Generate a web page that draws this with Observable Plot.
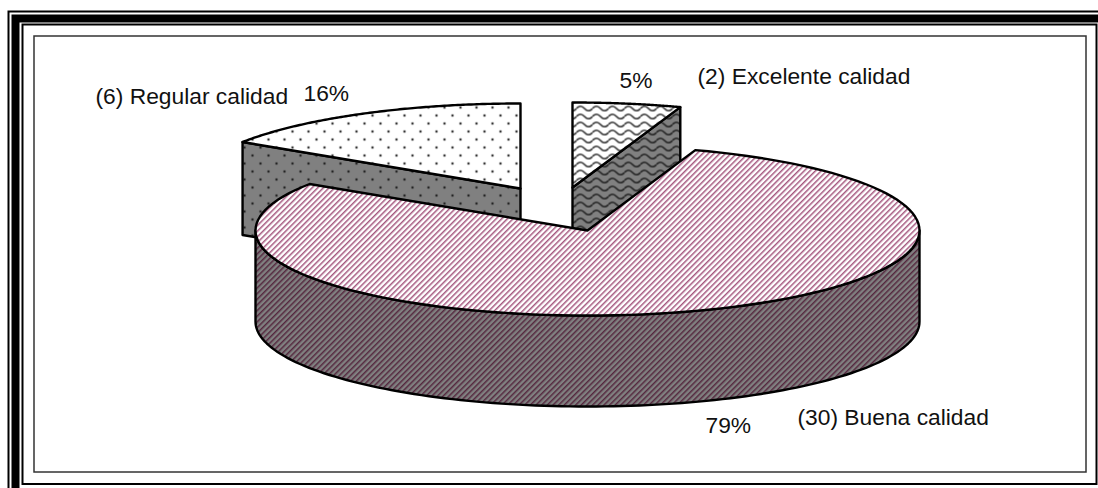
<!DOCTYPE html>
<html>
<head>
<meta charset="utf-8">
<style>html,body{margin:0;padding:0;background:#fff;overflow:hidden}svg{display:block}</style>
<script src="https://cdn.jsdelivr.net/npm/d3@7"></script>
<script src="https://cdn.jsdelivr.net/npm/@observablehq/plot@0.6"></script>
</head>
<body>
<script>
// Survey answers, in clockwise order from twelve o'clock.
const categories = ["Excelente calidad", "Buena calidad", "Regular calidad"];
const counts = [2, 30, 6];
const percents = ["5%", "79%", "16%"];

// Layout of the extruded pie, in page pixels.
const W = 1098, H = 488;
const radiusX = 332, radiusY = 85;
const depths = [91, 91, 93];
const centres = [[572, 187], [587, 230], [520, 188]];
const countAnchors = [[697, 83], [797, 424], [95, 103]];
const percentAnchors = [[619, 87], [705, 432], [303, 100.5]];
const topFills = ["url(#wavesTop)", "url(#stripesTop)", "url(#dotsTop)"];
const sideFills = ["url(#wavesSide)", "url(#stripesSide)", "url(#dotsSide)"];

// Project a pie angle (clockwise from the top) onto the tilted ellipse.
const onRim = ([cx, cy], a, drop = 0) => [cx + radiusX * Math.sin(a), cy - radiusY * Math.cos(a) + drop];
const rim = (c, a0, a1, drop = 0) =>
  d3.range(0, 121).map((i) => onRim(c, a0 + (a1 - a0) * i / 120, drop));

const slices = d3.pie().sort(null).startAngle(0).endAngle(2 * Math.PI)(counts);

const shape = (points, fill) => Plot.line([...points, points[0]], {
  x: (d) => d[0], y: (d) => d[1], fill,
  stroke: "black", strokeWidth: 2.4, strokeLinejoin: "round"
});

// Top face: rim arc closed through the slice's centre.
const topFace = (i) => shape(
  [centres[i], ...rim(centres[i], slices[i].startAngle, slices[i].endAngle)], topFills[i]);

// Radial cut face of a wedge, from a rim angle in to the centre and down.
const cutFace = (i, a) => shape(
  [onRim(centres[i], a), centres[i], [centres[i][0], centres[i][1] + depths[i]], onRim(centres[i], a, depths[i])], sideFills[i]);

// Outer wall of the large wedge, only its front half can be seen.
const frontWall = (i) => shape(
  [...rim(centres[i], Math.PI / 2, 3 * Math.PI / 2),
   ...rim(centres[i], 3 * Math.PI / 2, Math.PI / 2, depths[i])], sideFills[i]);

const labelRows = categories.map((c, i) => ({
  text: `(${counts[i]}) ${c}`, x: countAnchors[i][0], y: countAnchors[i][1]
})).concat(percents.map((p, i) => ({
  text: p, x: percentAnchors[i][0], y: percentAnchors[i][1]
})));

const border = (l, t, r, b, strokeWidth, stroke = "black") => Plot.frame({
  insetLeft: l, insetTop: t, insetRight: r, insetBottom: b, stroke, strokeWidth
});

const svg = Plot.plot({
  width: W, height: H,
  margin: 0,
  x: {domain: [0, W], range: [0, W], axis: null},
  y: {domain: [0, H], range: [0, H], axis: null},
  style: {background: "#fff"},
  marks: [
    border(8, 11, -4, -4, 2),
    border(15, 18, -8, -8, 8),
    border(22, 24, 2, 4.5, 2),
    border(33.5, 35.5, 12.5, 16.5, 1.5, "#333"),
    cutFace(2, slices[2].startAngle),
    topFace(2),
    cutFace(0, slices[0].endAngle),
    topFace(0),
    frontWall(1),
    topFace(1),
    Plot.text(labelRows, {
      x: "x", y: "y", text: "text", textAnchor: "start", lineAnchor: "bottom",
      fontFamily: "Liberation Sans, Arial, sans-serif", fontSize: 22.8, fill: "#111"
    })
  ]
});

// Hatch fills, referenced from the marks above by url().
const ns = "http://www.w3.org/2000/svg";
const defs = document.createElementNS(ns, "defs");
const wave = "M0,4 Q4,-0.5 8,4 Q12,8.5 16,4";
const tile = (id, w, h, bg, body, extra = "") =>
  `<pattern id="${id}" width="${w}" height="${h}" patternUnits="userSpaceOnUse" ${extra}>` +
  `<rect width="${w}" height="${h}" fill="${bg}"/>${body}</pattern>`;
const dots = (c) => `<circle cx="4" cy="3" r="1.25" fill="${c}"/><circle cx="12" cy="11" r="1.25" fill="${c}"/>`;
const waves = (c) => `<path d="${wave}" fill="none" stroke="${c}" stroke-width="1.7"/>`;
const stripe = (w, c) => `<rect width="${w}" height="6" fill="${c}"/>`;
defs.innerHTML =
  tile("dotsTop", 16, 16, "#fff", dots("#333")) +
  tile("dotsSide", 16, 16, "#808080", dots("#222")) +
  tile("wavesTop", 16, 8, "#fff", waves("#333")) +
  tile("wavesSide", 16, 8, "#808080", waves("#222")) +
  tile("stripesTop", 4, 6, "#fff", stripe(1.5, "#a5587f"), 'patternTransform="rotate(45)"') +
  tile("stripesSide", 4, 6, "#808080", stripe(1.5, "#55283f"), 'patternTransform="rotate(45)"');
svg.insertBefore(defs, svg.firstChild);

document.body.appendChild(svg);
</script>
</body>
</html>
